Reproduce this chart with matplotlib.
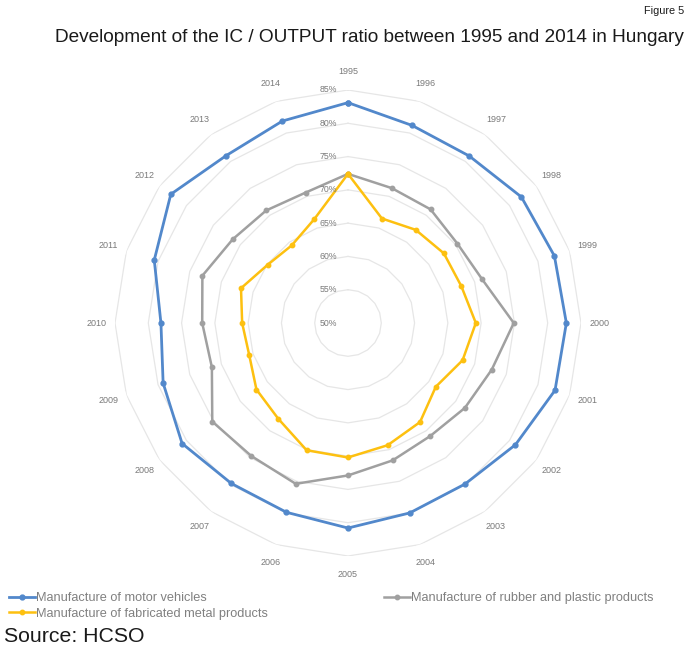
import numpy as np
import matplotlib
matplotlib.use("Agg")
import matplotlib.pyplot as plt
import matplotlib.transforms as mtransforms

years = [str(y) for y in range(1995, 2015)]
motor_vehicles = [83.1, 81.2, 81.0, 82.2, 82.6, 82.8, 82.7, 81.1, 79.9, 80.0,
                  80.8, 79.9, 79.8, 80.8, 79.2, 78.1, 80.6, 82.9, 81.1, 81.9]
rubber_plastic = [72.4, 71.3, 71.1, 70.3, 71.2, 74.9, 72.7, 71.7, 71.0, 71.7,
                  72.9, 75.4, 74.7, 75.2, 71.5, 71.9, 73.0, 71.4, 70.9, 70.6]
fabricated_metal = [72.4, 66.5, 67.3, 67.8, 67.9, 69.2, 68.1, 66.3, 68.4, 69.3,
                    70.2, 70.1, 67.8, 67.0, 65.6, 65.9, 66.9, 64.9, 64.4, 66.4]
series_names = ["Manufacture of motor vehicles",
                "Manufacture of rubber and plastic products",
                "Manufacture of fabricated metal products"]
r_levels = [50, 55, 60, 65, 70, 75, 80, 85]
r_labels = [f"{v}%" for v in r_levels]

plt.rcParams['font.family'] = ['Liberation Sans', 'DejaVu Sans']

W, H = 688, 655
fig = plt.figure(figsize=(W / 100, H / 100), dpi=100)

cx, cy, R = 348, 323, 233
ax = fig.add_axes([(cx - R) / W, (H - cy - R) / H, 2 * R / W, 2 * R / H],
                  projection='polar')
ax.set_theta_zero_location('N')
ax.set_theta_direction(-1)
ax.set_ylim(r_levels[0], r_levels[-1])
ax.spines['polar'].set_visible(False)
ax.grid(False)
ax.set_yticks([])
ax.patch.set_alpha(0)

n = len(years)
theta = np.arange(n) * 2 * np.pi / n
theta_c = np.append(theta, theta[0])

# polygon gridlines
for lv in r_levels[1:]:
    ax.plot(theta_c, [lv] * (n + 1), color='#E6E6E6', lw=0.9, zorder=1)

ax.set_xticks(theta)
ax.set_xticklabels(years, fontsize=6.5, color='#7A7A7A')
ax.tick_params(axis='x', pad=6.5, length=0)

# radial labels
off = mtransforms.offset_copy(ax.transData, fig=fig, x=-11, y=0, units='dots')
for lv, lab in zip(r_levels, r_labels):
    ax.text(0, lv, lab, transform=off, ha='right', va='center',
            fontsize=6.3, color='#7A7A7A', zorder=5)

def closed(v):
    return list(v) + [v[0]]

l1, = ax.plot(theta_c, closed(motor_vehicles), color='#5288CB', lw=2.0,
              marker='o', ms=3.5, zorder=4, clip_on=False)
l2, = ax.plot(theta_c, closed(rubber_plastic), color='#A0A0A0', lw=1.8,
              marker='o', ms=3.2, zorder=3)
l3, = ax.plot(theta_c, closed(fabricated_metal), color='#FDC010', lw=1.8,
              marker='o', ms=3.2, zorder=3)
l1.set_label(series_names[0])
l2.set_label(series_names[1])
l3.set_label(series_names[2])

leg_kw = dict(frameon=False, fontsize=9.2, handlelength=2.0, handletextpad=0.15,
              labelspacing=0.3, borderaxespad=0, borderpad=0, labelcolor='#808080')
fig.legend(handles=[l1, l3], loc='upper left',
           bbox_to_anchor=(9 / W, 1 - 592 / H), **leg_kw)
fig.legend(handles=[l2], loc='upper left',
           bbox_to_anchor=(384 / W, 1 - 592 / H), **leg_kw)

fig.text(684 / W, 1 - 37 / H,
         "Development of the IC / OUTPUT ratio between 1995 and 2014 in Hungary",
         ha='right', va='center', fontsize=13.7, color='#1a1a1a')
fig.text(684 / W, 1 - 11 / H, "Figure 5", ha='right', va='center',
         fontsize=7.8, color='#1a1a1a')
fig.text(4 / W, 1 - 637 / H, "Source: HCSO", ha='left', va='center',
         fontsize=15.3, color='#1a1a1a')

fig.savefig("out.png", dpi=100, facecolor='white')
